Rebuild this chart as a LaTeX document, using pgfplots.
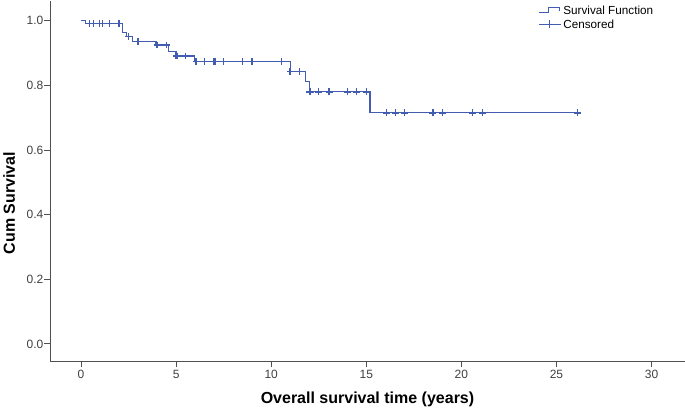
\documentclass[border=0pt]{standalone}
\usepackage{fontspec}
\setmainfont{Liberation Sans}
\usepackage{pgfplots}
\pgfplotsset{compat=1.18}
\definecolor{kmblue}{RGB}{66,92,178}
\definecolor{axisgray}{RGB}{80,80,80}

\begin{document}
\begin{tikzpicture}
\path[use as bounding box] (-50pt,-51.3pt) rectangle (635pt,361.7pt);
\begin{axis}[scale only axis=true, width=635pt, height=360.7pt,
    xmin=-1.63, xmax=31.76,
    ymin=-0.055, ymax=1.061,
    axis x line=bottom, axis y line=left,
    axis line style={axisgray, line width=0.9pt, -},
    xtick={0,5,...,30},
    ytick={0,0.2,0.4,0.6,0.8,1.0},
    tick align=outside,
    major tick length=5.5pt,
    tick style={axisgray, line width=0.9pt},
    /pgf/number format/assume math mode=true,
    yticklabel style={/pgf/number format/fixed, /pgf/number format/precision=1,
        /pgf/number format/fixed zerofill, inner sep=1pt},
    xticklabel style={inner sep=2.5pt},
    ticklabel style={font=\fontsize{12}{14}\selectfont, text=black!75},
    xlabel={Overall survival time (years)},
    ylabel={Cum Survival},
    label style={font=\fontsize{16}{18}\selectfont\bfseries},
    xlabel style={at={([yshift=-41.3pt]axis description cs:0.5,0)}, anchor=base},
    ylabel style={at={([xshift=-35pt]axis description cs:0,0.44)}, anchor=base, rotate=0},
    legend style={at={(0.7685,0.987)}, anchor=north west, draw=none, fill=none,
        inner sep=0pt, row sep=5.3pt, column sep=2pt,
        font=\fontsize{11.7}{13}\selectfont,
        nodes={inner sep=0pt, text height=8.4pt, text depth=0pt, anchor=west}},
    legend cell align=left,
    ]

% Kaplan-Meier step function (time, cum survival)
\addplot[kmblue, line width=1.3pt, const plot,
    legend image code/.code={
        \draw[kmblue, line width=1.2pt] (0pt,-2.5pt) -- (10pt,-2.5pt) -- (10pt,2.2pt)
            -- (21pt,2.2pt) -- (21pt,-1.2pt);}]
coordinates {
 (0,1.0) (0.25,0.991) (2.2,0.964) (2.4,0.951) (2.7,0.936)
 (3.95,0.925) (4.6,0.904) (5.0,0.891) (5.95,0.873)
 (11.0,0.842) (11.8,0.811) (12.0,0.780) (15.2,0.715) (26.1,0.715)
};
\addlegendentry{Survival Function}

% censored observations
\addplot[only marks, kmblue, mark=+, mark size=3.4pt,
    mark options={line width=1.4pt},
    legend image code/.code={
        \draw[kmblue, line width=1.2pt] (0pt,0pt) -- (22pt,0pt);
        \draw[kmblue, line width=1.3pt] (11pt,-4pt) -- (11pt,4pt);}]
coordinates {
 (0.45,0.991) (0.65,0.991) (0.96,0.991) (1.12,0.991) (1.49,0.991) (2.0,0.991)
 (2.5,0.951) (3.0,0.936)
 (4.0,0.925) (4.5,0.925)
 (5.0,0.891) (5.05,0.891) (5.5,0.891)
 (6.05,0.873) (6.5,0.873) (7.0,0.873) (7.05,0.873) (7.5,0.873) (8.5,0.873) (9.0,0.873) (10.55,0.873)
 (11.0,0.842) (11.5,0.842)
 (12.0,0.780) (12.05,0.780) (12.5,0.780) (13.05,0.780) (14.0,0.780) (14.5,0.780) (15.0,0.780)
 (16.05,0.715) (16.55,0.715) (17.0,0.715) (18.5,0.715) (19.0,0.715) (20.6,0.715) (21.1,0.715) (26.1,0.715)
};
\addlegendentry{Censored}
\end{axis}
\end{tikzpicture}
\end{document}
